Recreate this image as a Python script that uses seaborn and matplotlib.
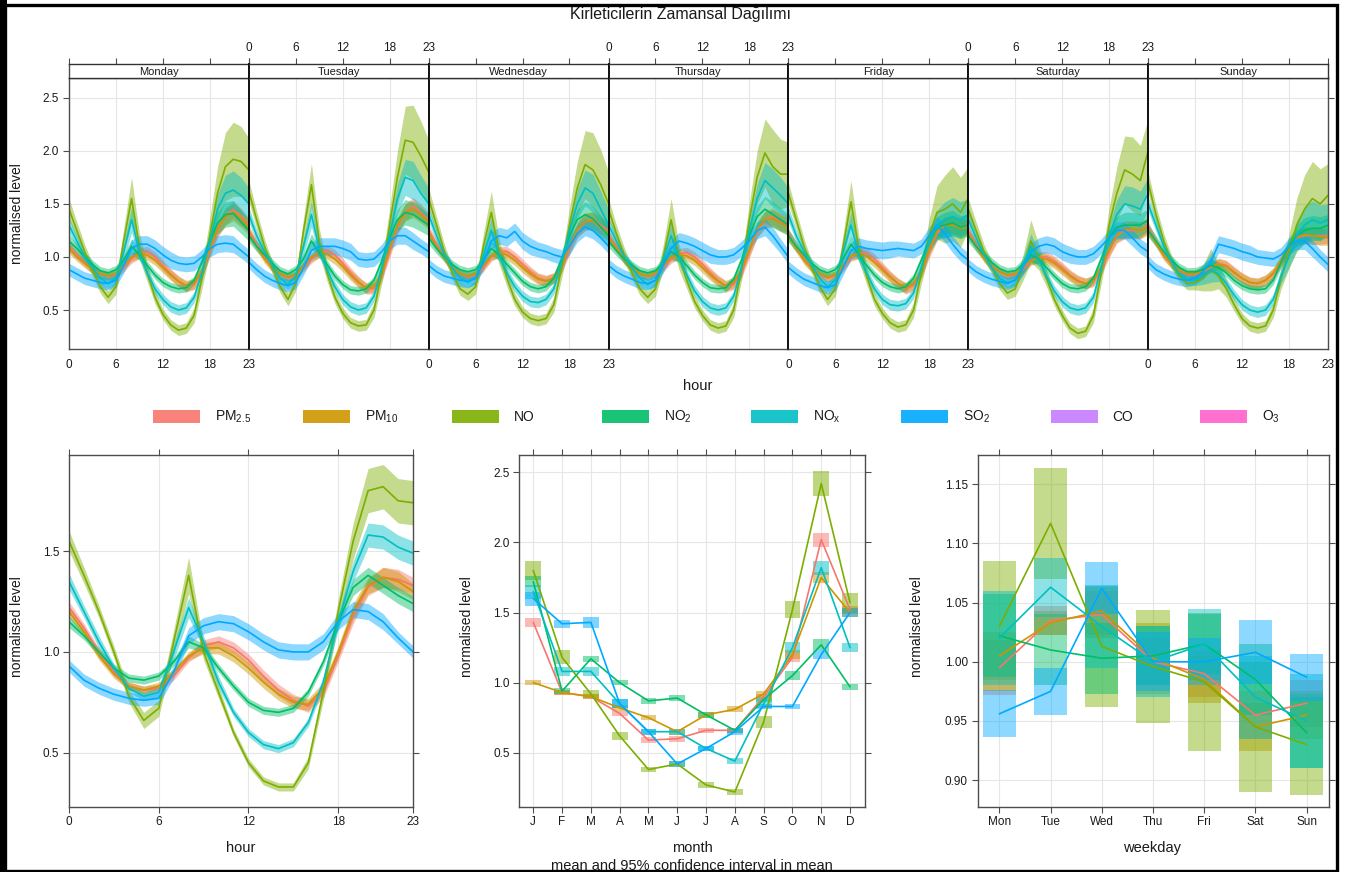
import matplotlib
matplotlib.use("Agg")
import numpy as np
import pandas as pd
import matplotlib.pyplot as plt
import seaborn as sns
from matplotlib.patches import Rectangle
from matplotlib.ticker import FormatStrFormatter

# ---------------- data ----------------
pollutants = ["PM2.5", "PM10", "NO", "NO2", "NOx", "SO2"]
colors = ["#F8766D", "#CD9600", "#7CAE00", "#00BE67", "#00BFC4", "#00A9FF"]
legend_labels = ["PM$_{2.5}$", "PM$_{10}$", "NO", "NO$_2$", "NO$_x$", "SO$_2$", "CO", "O$_3$"]
legend_colors = ["#F8766D", "#CD9600", "#7CAE00", "#00BE67", "#00BFC4", "#00A9FF", "#C77CFF", "#FF61CC"]
days = ["Monday", "Tuesday", "Wednesday", "Thursday", "Friday", "Saturday", "Sunday"]
hours = list(range(24))
hour_ticks = [0, 6, 12, 18, 23]
months = ["J", "F", "M", "A", "M", "J", "J", "A", "S", "O", "N", "D"]
weekdays = ["Mon", "Tue", "Wed", "Thu", "Fri", "Sat", "Sun"]

# --- hour x weekday (168 values each, one row per day) ---
PM25_week = [
    1.10,1.02,0.95,0.88,0.84,0.82,0.83,0.90,0.98,1.04,1.05,1.00,0.92,0.84,0.77,0.72,0.74,0.85,1.05,1.25,1.38,1.45,1.38,1.30,
    1.25,1.12,1.00,0.90,0.84,0.80,0.82,0.90,0.98,1.05,1.06,1.02,0.94,0.85,0.77,0.70,0.70,0.82,1.05,1.28,1.42,1.48,1.42,1.35,
    1.25,1.12,1.00,0.90,0.84,0.81,0.83,0.90,1.00,1.05,1.05,1.00,0.93,0.86,0.80,0.78,0.80,0.90,1.08,1.25,1.33,1.35,1.30,1.25,
    1.20,1.10,0.98,0.90,0.84,0.82,0.84,0.90,0.98,1.03,1.04,1.00,0.93,0.85,0.78,0.72,0.74,0.85,1.05,1.25,1.35,1.38,1.33,1.30,
    1.22,1.10,0.98,0.90,0.84,0.80,0.82,0.90,1.00,1.04,1.04,0.98,0.90,0.82,0.75,0.70,0.73,0.85,1.05,1.22,1.30,1.30,1.28,1.30,
    1.25,1.12,1.00,0.92,0.86,0.82,0.83,0.88,0.96,1.00,1.00,0.96,0.90,0.83,0.78,0.75,0.77,0.88,1.05,1.20,1.25,1.25,1.25,1.30,
    1.28,1.15,1.02,0.93,0.87,0.83,0.83,0.86,0.90,0.94,0.92,0.86,0.80,0.76,0.75,0.78,0.84,0.95,1.08,1.18,1.20,1.20,1.20,1.20,
]
PM10_week = [
    1.08,1.00,0.94,0.88,0.84,0.82,0.84,0.92,1.00,1.03,1.02,0.97,0.90,0.83,0.77,0.73,0.75,0.87,1.07,1.27,1.38,1.42,1.36,1.28,
    1.22,1.10,0.98,0.90,0.84,0.81,0.83,0.92,1.00,1.04,1.03,0.98,0.91,0.83,0.76,0.71,0.72,0.85,1.08,1.30,1.42,1.45,1.40,1.33,
    1.22,1.10,0.99,0.90,0.84,0.82,0.84,0.92,1.01,1.04,1.02,0.97,0.90,0.84,0.79,0.77,0.80,0.92,1.10,1.26,1.33,1.34,1.28,1.22,
    1.18,1.08,0.97,0.90,0.84,0.82,0.85,0.92,1.00,1.02,1.01,0.97,0.90,0.83,0.77,0.73,0.76,0.88,1.07,1.26,1.35,1.36,1.32,1.28,
    1.20,1.08,0.97,0.89,0.84,0.81,0.83,0.92,1.01,1.03,1.01,0.95,0.88,0.81,0.75,0.71,0.75,0.87,1.07,1.24,1.30,1.30,1.27,1.28,
    1.22,1.10,0.99,0.91,0.86,0.83,0.84,0.90,0.97,0.99,0.98,0.94,0.88,0.82,0.77,0.75,0.78,0.90,1.07,1.21,1.26,1.26,1.25,1.28,
    1.25,1.13,1.01,0.93,0.87,0.84,0.84,0.87,0.91,0.93,0.91,0.85,0.80,0.76,0.75,0.78,0.85,0.97,1.10,1.19,1.21,1.20,1.19,1.18,
]
NO_week = [
    1.45,1.25,1.05,0.88,0.72,0.62,0.72,1.15,1.55,1.10,0.85,0.62,0.46,0.36,0.31,0.33,0.45,0.80,1.20,1.60,1.85,1.92,1.90,1.82,
    1.62,1.35,1.10,0.90,0.72,0.60,0.75,1.25,1.68,1.15,0.85,0.62,0.47,0.38,0.35,0.36,0.50,0.85,1.30,1.75,2.10,2.08,1.95,1.80,
    1.55,1.30,1.05,0.85,0.70,0.65,0.72,1.10,1.42,1.05,0.80,0.60,0.48,0.42,0.40,0.42,0.55,0.90,1.30,1.65,1.87,1.82,1.68,1.50,
    1.45,1.22,1.02,0.85,0.70,0.62,0.70,1.00,1.35,1.00,0.78,0.58,0.45,0.36,0.33,0.35,0.50,0.88,1.35,1.75,1.98,1.85,1.78,1.78,
    1.60,1.35,1.10,0.90,0.72,0.60,0.70,1.10,1.52,1.08,0.82,0.60,0.47,0.38,0.34,0.36,0.50,0.85,1.20,1.42,1.45,1.50,1.42,1.55,
    1.45,1.25,1.05,0.90,0.75,0.66,0.70,0.90,1.15,1.00,0.80,0.60,0.45,0.33,0.28,0.30,0.45,0.85,1.30,1.60,1.82,1.78,1.72,2.00,
    1.70,1.40,1.15,0.95,0.82,0.75,0.76,0.80,0.88,0.82,0.70,0.55,0.42,0.35,0.33,0.35,0.50,0.80,1.05,1.30,1.45,1.55,1.50,1.58,
]
NO2_week = [
    1.15,1.08,1.00,0.93,0.87,0.85,0.88,0.97,1.10,1.02,0.92,0.83,0.76,0.72,0.70,0.71,0.78,0.95,1.15,1.32,1.40,1.41,1.33,1.25,
    1.20,1.10,1.02,0.94,0.87,0.84,0.88,0.98,1.15,1.04,0.93,0.82,0.74,0.69,0.68,0.70,0.78,0.96,1.18,1.35,1.42,1.40,1.35,1.30,
    1.18,1.08,1.00,0.93,0.88,0.86,0.88,0.97,1.08,1.02,0.93,0.85,0.77,0.72,0.70,0.72,0.80,0.98,1.20,1.35,1.40,1.36,1.28,1.20,
    1.15,1.06,0.98,0.92,0.87,0.85,0.87,0.95,1.05,1.00,0.92,0.83,0.76,0.71,0.70,0.71,0.79,0.97,1.20,1.38,1.45,1.40,1.35,1.30,
    1.20,1.10,1.02,0.94,0.88,0.85,0.88,0.98,1.12,1.02,0.92,0.83,0.76,0.72,0.70,0.72,0.80,0.97,1.15,1.28,1.30,1.32,1.28,1.30,
    1.20,1.10,1.02,0.95,0.89,0.86,0.87,0.93,1.02,0.98,0.90,0.82,0.75,0.71,0.70,0.72,0.80,0.98,1.18,1.28,1.30,1.30,1.30,1.35,
    1.25,1.15,1.05,0.97,0.90,0.86,0.86,0.88,0.92,0.90,0.85,0.78,0.73,0.70,0.69,0.70,0.78,0.95,1.10,1.20,1.25,1.27,1.27,1.30,
]
NOx_week = [
    1.30,1.15,1.00,0.90,0.80,0.75,0.80,1.05,1.35,1.05,0.85,0.70,0.60,0.53,0.50,0.52,0.62,0.85,1.15,1.45,1.60,1.63,1.58,1.50,
    1.40,1.20,1.05,0.92,0.80,0.74,0.82,1.10,1.40,1.08,0.88,0.72,0.60,0.53,0.50,0.52,0.63,0.90,1.20,1.55,1.75,1.72,1.60,1.50,
    1.40,1.20,1.02,0.90,0.80,0.76,0.80,1.02,1.25,1.02,0.85,0.72,0.63,0.58,0.57,0.60,0.70,0.95,1.25,1.50,1.65,1.60,1.45,1.30,
    1.30,1.15,1.00,0.90,0.80,0.74,0.78,0.98,1.20,1.00,0.83,0.68,0.58,0.52,0.50,0.52,0.63,0.90,1.25,1.55,1.72,1.65,1.58,1.50,
    1.40,1.20,1.05,0.92,0.80,0.72,0.78,1.05,1.30,1.02,0.85,0.70,0.60,0.55,0.54,0.56,0.66,0.90,1.15,1.30,1.35,1.38,1.35,1.40,
    1.35,1.18,1.02,0.90,0.80,0.76,0.78,0.92,1.10,0.98,0.82,0.68,0.58,0.52,0.50,0.52,0.62,0.90,1.20,1.40,1.50,1.48,1.45,1.60,
    1.50,1.30,1.10,0.95,0.84,0.78,0.78,0.82,0.88,0.84,0.75,0.64,0.55,0.50,0.48,0.50,0.60,0.82,1.00,1.20,1.30,1.35,1.32,1.35,
]
SO2_week = [
    0.88,0.84,0.80,0.78,0.76,0.75,0.78,0.92,1.08,1.12,1.12,1.08,1.02,0.97,0.94,0.93,0.94,1.00,1.08,1.12,1.13,1.12,1.06,1.00,
    0.95,0.88,0.82,0.78,0.75,0.73,0.76,0.90,1.06,1.10,1.10,1.10,1.08,1.05,0.98,0.97,0.98,1.05,1.15,1.20,1.20,1.15,1.10,1.05,
    0.92,0.86,0.82,0.80,0.78,0.77,0.80,0.95,1.15,1.20,1.18,1.24,1.15,1.10,1.07,1.05,1.02,1.00,1.10,1.22,1.28,1.25,1.18,1.10,
    0.92,0.86,0.82,0.79,0.76,0.75,0.78,0.92,1.08,1.15,1.13,1.10,1.06,1.02,1.00,1.00,1.02,1.08,1.15,1.25,1.28,1.20,1.10,1.00,
    0.90,0.84,0.79,0.76,0.73,0.71,0.74,0.90,1.06,1.10,1.08,1.07,1.06,1.07,1.08,1.07,1.06,1.10,1.20,1.30,1.22,1.12,1.03,0.97,
    0.92,0.86,0.82,0.79,0.77,0.75,0.78,0.90,1.05,1.10,1.12,1.10,1.05,1.02,1.00,1.00,1.03,1.10,1.18,1.25,1.25,1.18,1.10,1.05,
    0.95,0.88,0.84,0.81,0.79,0.78,0.80,0.86,0.95,1.12,1.10,1.08,1.05,1.03,1.00,0.99,0.98,1.02,1.10,1.15,1.15,1.08,1.00,0.93,
]
# confidence half-widths for the weekly panel, by hour of day
PM25_week_ci = [0.05,0.04,0.04,0.04,0.04,0.04,0.04,0.04,0.04,0.05,0.05,0.05,0.05,0.05,0.05,0.05,0.05,0.05,0.06,0.07,0.08,0.08,0.08,0.07]
PM10_week_ci = [0.05,0.04,0.04,0.04,0.04,0.04,0.04,0.04,0.04,0.05,0.05,0.05,0.05,0.05,0.05,0.05,0.05,0.05,0.06,0.07,0.08,0.08,0.08,0.07]
NO_week_ci = [0.10,0.08,0.07,0.06,0.06,0.06,0.07,0.12,0.20,0.12,0.08,0.06,0.05,0.05,0.05,0.05,0.07,0.10,0.16,0.25,0.32,0.35,0.33,0.30]
NO2_week_ci = [0.06,0.05,0.04,0.04,0.04,0.04,0.04,0.05,0.07,0.05,0.04,0.04,0.04,0.04,0.04,0.04,0.04,0.05,0.07,0.10,0.12,0.12,0.11,0.10]
NOx_week_ci = [0.07,0.06,0.05,0.05,0.05,0.05,0.05,0.08,0.12,0.07,0.05,0.05,0.05,0.05,0.05,0.05,0.05,0.07,0.10,0.14,0.17,0.18,0.17,0.15]
SO2_week_ci = [0.06,0.06,0.06,0.06,0.06,0.06,0.06,0.07,0.08,0.08,0.08,0.08,0.08,0.08,0.07,0.07,0.07,0.07,0.08,0.08,0.08,0.08,0.07,0.07]

# --- diurnal (hour of day) ---
PM25_hour = [1.22,1.12,1.00,0.90,0.83,0.81,0.82,0.88,0.97,1.03,1.05,1.02,0.96,0.88,0.81,0.76,0.73,0.80,0.98,1.18,1.32,1.37,1.36,1.33]
PM10_hour = [1.20,1.10,0.98,0.89,0.83,0.81,0.83,0.90,0.98,1.02,1.02,0.98,0.92,0.85,0.79,0.75,0.74,0.82,1.00,1.20,1.33,1.37,1.35,1.30]
NO_hour = [1.55,1.38,1.20,1.00,0.78,0.66,0.72,1.05,1.38,1.00,0.80,0.60,0.45,0.36,0.33,0.33,0.45,0.80,1.20,1.55,1.80,1.82,1.75,1.74]
NO2_hour = [1.15,1.08,1.00,0.92,0.87,0.86,0.88,0.95,1.05,1.02,0.92,0.83,0.75,0.71,0.70,0.72,0.80,0.95,1.15,1.32,1.38,1.33,1.28,1.24]
NOx_hour = [1.35,1.20,1.05,0.92,0.82,0.78,0.80,1.00,1.22,1.05,0.85,0.70,0.60,0.54,0.52,0.55,0.65,0.85,1.15,1.40,1.58,1.57,1.52,1.49]
SO2_hour = [0.93,0.86,0.82,0.79,0.77,0.76,0.77,0.90,1.08,1.13,1.15,1.14,1.10,1.05,1.01,1.00,1.00,1.05,1.15,1.21,1.20,1.15,1.07,1.00]
PM25_hour_ci = [0.03,0.02,0.02,0.02,0.02,0.02,0.02,0.02,0.02,0.03,0.03,0.03,0.03,0.03,0.03,0.03,0.03,0.03,0.03,0.04,0.04,0.05,0.05,0.04]
PM10_hour_ci = [0.03,0.02,0.02,0.02,0.02,0.02,0.02,0.02,0.02,0.03,0.03,0.03,0.03,0.03,0.03,0.03,0.03,0.03,0.03,0.04,0.04,0.05,0.05,0.04]
NO_hour_ci = [0.05,0.04,0.03,0.03,0.03,0.04,0.04,0.06,0.09,0.04,0.03,0.02,0.02,0.02,0.02,0.02,0.03,0.04,0.06,0.09,0.11,0.11,0.11,0.11]
NO2_hour_ci = [0.03,0.02,0.02,0.02,0.02,0.02,0.02,0.02,0.03,0.02,0.02,0.02,0.02,0.02,0.02,0.02,0.02,0.02,0.03,0.04,0.04,0.04,0.04,0.04]
NOx_hour_ci = [0.04,0.03,0.03,0.02,0.02,0.02,0.03,0.04,0.05,0.03,0.03,0.02,0.02,0.02,0.02,0.02,0.02,0.03,0.04,0.05,0.06,0.06,0.06,0.06]
SO2_hour_ci = [0.03,0.03,0.03,0.03,0.03,0.03,0.03,0.03,0.04,0.04,0.04,0.04,0.04,0.04,0.04,0.04,0.04,0.04,0.04,0.04,0.04,0.04,0.03,0.03]

# --- monthly ---
PM25_month = [1.43, 0.93, 0.90, 0.78, 0.59, 0.60, 0.66, 0.66, 0.90, 1.18, 2.02, 1.52]
PM10_month = [1.00, 0.93, 0.90, 0.82, 0.75, 0.65, 0.77, 0.81, 0.92, 1.20, 1.75, 1.50]
NO_month = [1.80, 1.18, 0.92, 0.62, 0.38, 0.42, 0.27, 0.22, 0.72, 1.52, 2.42, 1.57]
NO2_month = [1.72, 0.94, 1.17, 1.00, 0.87, 0.89, 0.77, 0.66, 0.88, 1.05, 1.27, 0.97]
NOx_month = [1.65, 1.08, 1.08, 0.85, 0.65, 0.65, 0.53, 0.44, 0.85, 1.25, 1.82, 1.25]
SO2_month = [1.60, 1.42, 1.43, 0.85, 0.65, 0.42, 0.53, 0.65, 0.83, 0.83, 1.20, 1.50]
PM25_month_ci = [0.03, 0.02, 0.02, 0.02, 0.02, 0.02, 0.02, 0.02, 0.02, 0.03, 0.05, 0.03]
PM10_month_ci = [0.02, 0.02, 0.02, 0.02, 0.02, 0.02, 0.02, 0.02, 0.02, 0.03, 0.04, 0.03]
NO_month_ci = [0.07, 0.05, 0.03, 0.03, 0.02, 0.02, 0.02, 0.02, 0.04, 0.06, 0.09, 0.07]
NO2_month_ci = [0.04, 0.02, 0.02, 0.02, 0.02, 0.02, 0.02, 0.02, 0.02, 0.03, 0.04, 0.02]
NOx_month_ci = [0.05, 0.03, 0.03, 0.03, 0.02, 0.02, 0.02, 0.02, 0.03, 0.04, 0.05, 0.03]
SO2_month_ci = [0.05, 0.03, 0.04, 0.03, 0.02, 0.02, 0.02, 0.02, 0.02, 0.02, 0.03, 0.03]

# --- weekday ---
PM25_wday = [0.995, 1.035, 1.040, 1.000, 0.990, 0.955, 0.965]
PM10_wday = [1.005, 1.033, 1.043, 1.003, 0.985, 0.945, 0.955]
NO_wday = [1.030, 1.117, 1.013, 0.996, 0.983, 0.945, 0.930]
NO2_wday = [1.022, 1.010, 1.003, 1.005, 1.015, 0.985, 0.940]
NOx_wday = [1.020, 1.063, 1.030, 1.000, 1.015, 0.970, 0.950]
SO2_wday = [0.956, 0.975, 1.062, 1.000, 1.000, 1.008, 0.987]
PM25_wday_ci = [0.023, 0.012, 0.020, 0.020, 0.020, 0.020, 0.020]
PM10_wday_ci = [0.020, 0.010, 0.020, 0.030, 0.020, 0.020, 0.020]
NO_wday_ci = [0.055, 0.047, 0.051, 0.048, 0.058, 0.055, 0.043]
NO2_wday_ci = [0.035, 0.030, 0.030, 0.025, 0.025, 0.030, 0.030]
NOx_wday_ci = [0.040, 0.025, 0.035, 0.030, 0.030, 0.035, 0.040]
SO2_wday_ci = [0.020, 0.020, 0.022, 0.025, 0.020, 0.027, 0.020]

week = dict(zip(pollutants, [PM25_week, PM10_week, NO_week, NO2_week, NOx_week, SO2_week]))
week_ci = dict(zip(pollutants, [PM25_week_ci, PM10_week_ci, NO_week_ci, NO2_week_ci, NOx_week_ci, SO2_week_ci]))
hour_v = dict(zip(pollutants, [PM25_hour, PM10_hour, NO_hour, NO2_hour, NOx_hour, SO2_hour]))
hour_ci = dict(zip(pollutants, [PM25_hour_ci, PM10_hour_ci, NO_hour_ci, NO2_hour_ci, NOx_hour_ci, SO2_hour_ci]))
month_v = dict(zip(pollutants, [PM25_month, PM10_month, NO_month, NO2_month, NOx_month, SO2_month]))
month_ci = dict(zip(pollutants, [PM25_month_ci, PM10_month_ci, NO_month_ci, NO2_month_ci, NOx_month_ci, SO2_month_ci]))
wday_v = dict(zip(pollutants, [PM25_wday, PM10_wday, NO_wday, NO2_wday, NOx_wday, SO2_wday]))
wday_ci = dict(zip(pollutants, [PM25_wday_ci, PM10_wday_ci, NO_wday_ci, NO2_wday_ci, NOx_wday_ci, SO2_wday_ci]))
pal = dict(zip(pollutants, colors))

# ---------------- style ----------------
sns.set_theme(style="white")
plt.rcParams["font.family"] = ["Liberation Sans", "DejaVu Sans"]
plt.rcParams["mathtext.default"] = "regular"

W, H = 1354, 872
def fx(x):
    return x / W
def fy(y):
    return 1 - y / H

TXT = "#1a1a1a"
SPINE = "#4d4d4d"
GRID = "#e6e6e6"
BAND_ALPHA = 0.45
LW = 1.2

fig = plt.figure(figsize=(13.54, 8.72), dpi=100)
fig.patch.set_facecolor("white")

def style_spines(ax, color=SPINE, lw=1.0):
    for s in ax.spines.values():
        s.set_color(color)
        s.set_linewidth(lw)

# ---------------- top: hour x weekday ----------------
x_edges = np.linspace(69, 1328, 8)
top_y0, top_y1 = 78.3, 349.3
for d in range(7):
    x0, x1 = x_edges[d], x_edges[d + 1]
    ax = fig.add_axes([fx(x0), fy(top_y1), (x1 - x0) / W, (top_y1 - top_y0) / H])
    rows = []
    for p in pollutants:
        vals = week[p][d * 24:(d + 1) * 24]
        lo = np.array(vals) - np.array(week_ci[p])
        hi = np.array(vals) + np.array(week_ci[p])
        ax.fill_between(hours, lo, hi, color=pal[p], alpha=BAND_ALPHA, lw=0)
        rows.append(pd.DataFrame({"hour": hours, "value": vals, "pollutant": p}))
    df = pd.concat(rows, ignore_index=True)
    sns.lineplot(data=df, x="hour", y="value", hue="pollutant", hue_order=pollutants,
                 palette=pal, legend=False, ax=ax, linewidth=LW, errorbar=None)
    ax.set_xlim(0, 23)
    ax.set_ylim(0.13, 2.683)
    ax.set_xticks(hour_ticks)
    ax.set_yticks([0.5, 1.0, 1.5, 2.0, 2.5])
    ax.yaxis.set_major_formatter(FormatStrFormatter("%.1f"))
    ax.grid(True, color=GRID, lw=0.8)
    ax.set_axisbelow(True)
    ax.set_xlabel("")
    ax.set_ylabel("")
    style_spines(ax)
    ax.spines["left"].set_color("black" if d > 0 else SPINE)
    ax.spines["left"].set_linewidth(1.3 if d > 0 else 1.0)
    ax.tick_params(axis="x", direction="out", length=4, width=0.8, color=SPINE,
                   labelsize=8.5, labelcolor=TXT, pad=3, labelbottom=(d % 2 == 0))
    ax.tick_params(axis="y", direction="out", length=4, width=0.8, color=SPINE,
                   labelsize=8.5, labelcolor=TXT, pad=3,
                   left=(d == 0), labelleft=(d == 0), right=(d == 6), labelright=False)
    # strip with day name
    sax = fig.add_axes([fx(x0), fy(top_y0), (x1 - x0) / W, (top_y0 - 64) / H])
    sax.set_xlim(0, 23)
    sax.set_ylim(0, 1)
    sax.set_facecolor("white")
    sax.set_yticks([])
    sax.xaxis.tick_top()
    sax.set_xticks(hour_ticks)
    if d % 2 == 1:
        sax.set_xticklabels([str(t) for t in hour_ticks])
    else:
        sax.set_xticklabels([])
    sax.tick_params(axis="x", direction="out", length=4, width=0.8, color=SPINE,
                    labelsize=8.5, labelcolor=TXT, pad=3)
    style_spines(sax, color="#333333", lw=1.0)
    sax.spines["left"].set_color("black" if d > 0 else SPINE)
    sax.spines["left"].set_linewidth(1.3 if d > 0 else 1.0)
    sax.text(11.5, 0.45, days[d], ha="center", va="center", fontsize=8, color=TXT)

fig.text(fx(680), fy(15), "Kirleticilerin Zamansal Dağılımı", ha="center", va="center",
         fontsize=11.5, color=TXT)
fig.text(fx(17), fy(214), "normalised level", rotation=90, ha="center", va="center",
         fontsize=10, color=TXT)
fig.text(fx(698), fy(386), "hour", ha="center", va="center", fontsize=10.5, color=TXT)

# ---------------- legend ----------------
lax = fig.add_axes([0, fy(432), 1, 30 / H])
lax.set_xlim(0, W)
lax.set_ylim(432, 402)
lax.axis("off")
for i, (lab, col) in enumerate(zip(legend_labels, legend_colors)):
    x = 153 + i * 149.6
    lax.add_patch(Rectangle((x, 410.5), 47, 13, facecolor=col, edgecolor="none", alpha=0.9))
    lax.text(x + 62, 417, lab, ha="left", va="center", fontsize=10, color=TXT)

# ---------------- bottom panels ----------------
b_top, b_bot = 455, 806.7

def bottom_axes(xl, xr):
    ax = fig.add_axes([fx(xl), fy(b_bot), (xr - xl) / W, (b_bot - b_top) / H])
    style_spines(ax)
    ax.grid(True, color=GRID, lw=0.8)
    ax.set_axisbelow(True)
    ax.tick_params(direction="out", length=4, width=0.8, color=SPINE, labelsize=8.5,
                   labelcolor=TXT, pad=3, top=True, right=True, labeltop=False,
                   labelright=False, bottom=True, left=True)
    return ax

# hour of day
ax1 = bottom_axes(69, 413)
rows = []
for p in pollutants:
    v = np.array(hour_v[p])
    c = np.array(hour_ci[p])
    ax1.fill_between(hours, v - c, v + c, color=pal[p], alpha=BAND_ALPHA, lw=0)
    rows.append(pd.DataFrame({"hour": hours, "value": hour_v[p], "pollutant": p}))
dfh = pd.concat(rows, ignore_index=True)
sns.lineplot(data=dfh, x="hour", y="value", hue="pollutant", hue_order=pollutants,
             palette=pal, legend=False, ax=ax1, linewidth=LW, errorbar=None)
ax1.set_xlim(0, 23)
ax1.set_ylim(0.232, 1.977)
ax1.set_xticks(hour_ticks)
ax1.set_yticks([0.5, 1.0, 1.5])
ax1.yaxis.set_major_formatter(FormatStrFormatter("%.1f"))
ax1.set_xlabel("")
ax1.set_ylabel("")
fig.text(fx(241), fy(848), "hour", ha="center", va="center", fontsize=10.5, color=TXT)
fig.text(fx(17), fy(627), "normalised level", rotation=90, ha="center", va="center",
         fontsize=10, color=TXT)

# month
ax2 = bottom_axes(519.3, 865)
mx = list(range(1, 13))
rows = []
for p in pollutants:
    v = np.array(month_v[p])
    c = np.array(month_ci[p])
    ax2.bar(mx, 2 * c, bottom=v - c, width=0.55, color=pal[p], alpha=0.5, lw=0)
    rows.append(pd.DataFrame({"month": mx, "value": month_v[p], "pollutant": p}))
dfm = pd.concat(rows, ignore_index=True)
sns.lineplot(data=dfm, x="month", y="value", hue="pollutant", hue_order=pollutants,
             palette=pal, legend=False, ax=ax2, linewidth=LW, errorbar=None)
ax2.set_xlim(0.514, 12.52)
ax2.set_ylim(0.115, 2.624)
ax2.set_xticks(mx)
ax2.set_xticklabels(months)
ax2.set_yticks([0.5, 1.0, 1.5, 2.0, 2.5])
ax2.yaxis.set_major_formatter(FormatStrFormatter("%.1f"))
ax2.set_xlabel("")
ax2.set_ylabel("")
fig.text(fx(692), fy(848), "month", ha="center", va="center", fontsize=10.5, color=TXT)
fig.text(fx(692), fy(866), "mean and 95% confidence interval in mean", ha="center",
         va="center", fontsize=10.5, color=TXT)
fig.text(fx(467), fy(627), "normalised level", rotation=90, ha="center", va="center",
         fontsize=10, color=TXT)

# weekday
ax3 = bottom_axes(977.7, 1329)
wx = list(range(7))
rows = []
for p in pollutants:
    v = np.array(wday_v[p])
    c = np.array(wday_ci[p])
    ax3.bar(wx, 2 * c, bottom=v - c, width=0.65, color=pal[p], alpha=0.45, lw=0)
    rows.append(pd.DataFrame({"wday": wx, "value": wday_v[p], "pollutant": p}))
dfw = pd.concat(rows, ignore_index=True)
sns.lineplot(data=dfw, x="wday", y="value", hue="pollutant", hue_order=pollutants,
             palette=pal, legend=False, ax=ax3, linewidth=LW, errorbar=None)
ax3.set_xlim(-0.423, 6.436)
ax3.set_ylim(0.8775, 1.1748)
ax3.set_xticks(wx)
ax3.set_xticklabels(weekdays)
ax3.set_yticks([0.90, 0.95, 1.00, 1.05, 1.10, 1.15])
ax3.yaxis.set_major_formatter(FormatStrFormatter("%.2f"))
ax3.set_xlabel("")
ax3.set_ylabel("")
fig.text(fx(1152), fy(848), "weekday", ha="center", va="center", fontsize=10.5, color=TXT)
fig.text(fx(917), fy(627), "normalised level", rotation=90, ha="center", va="center",
         fontsize=10, color=TXT)

# ---------------- outer frame ----------------
fig.patches.append(Rectangle((fx(5.5), fy(870.5)), (1336.5 - 5.5) / W, (870.5 - 5.5) / H,
                             transform=fig.transFigure, fill=False, edgecolor="black",
                             linewidth=2.4, zorder=10))
fig.patches.append(Rectangle((0, 0), 7 / W, 1, transform=fig.transFigure,
                             facecolor="black", edgecolor="none", zorder=10))

fig.savefig("out.png", dpi=100, facecolor="white")
